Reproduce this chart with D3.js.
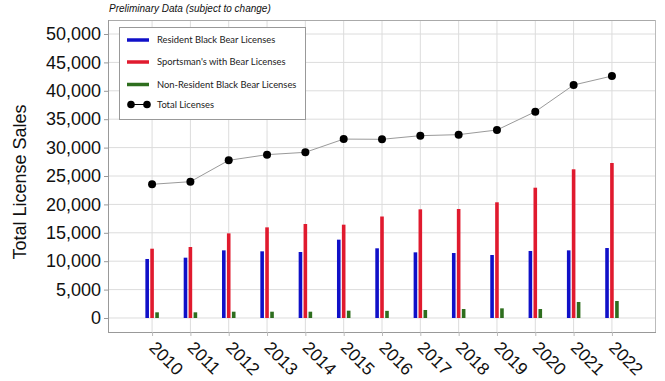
<!DOCTYPE html>
<html>
<head>
<meta charset="utf-8">
<script src="https://cdn.jsdelivr.net/npm/d3@7"></script>
<style>
  html, body { margin: 0; padding: 0; background: #fff; }
  svg { display: block; }
</style>
</head>
<body>
<svg id="chart" width="665" height="381"></svg>
<script>
const years = [2010, 2011, 2012, 2013, 2014, 2015, 2016, 2017, 2018, 2019, 2020, 2021, 2022];
const resident = [10390, 10620, 11910, 11740, 11620, 13790, 12270, 11560, 11440, 11090, 11800, 11910, 12320];
const sportsman = [12200, 12500, 14900, 15960, 16550, 16430, 17870, 19130, 19190, 20370, 22940, 26180, 27290];
const nonResident = [1000, 1000, 1110, 1110, 1110, 1290, 1260, 1410, 1580, 1700, 1580, 2820, 2990];
const total = [23540, 24000, 27760, 28760, 29170, 31500, 31460, 32100, 32280, 33100, 36320, 41020, 42600];
const yTicks = [0, 5000, 10000, 15000, 20000, 25000, 30000, 35000, 40000, 45000, 50000];
const seriesNames = ["Resident Black Bear Licenses", "Sportsman's with Bear Licenses", "Non-Resident Black Bear Licenses", "Total Licenses"];

const colors = ["#1010c8", "#e01a2e", "#2e6e1e"];
const svg = d3.select("#chart");
const L = 108, R = 656, T = 20, B = 332;

const x = d3.scaleLinear().domain([2008.85, 2023.15]).range([L, R]);
const y = d3.scaleLinear().domain([-2465, 52465]).range([B, T]);

// grid
const grid = svg.append("g");
grid.selectAll("line.h").data(yTicks).join("line")
  .attr("x1", L).attr("x2", R)
  .attr("y1", d => y(d)).attr("y2", d => y(d))
  .attr("stroke", "#dcdcdc").attr("stroke-width", 1);
grid.selectAll("line.v").data(years).join("line")
  .attr("x1", d => x(d)).attr("x2", d => x(d))
  .attr("y1", T).attr("y2", B)
  .attr("stroke", "#dcdcdc").attr("stroke-width", 1);

// frame top/right
svg.append("line").attr("x1", L).attr("x2", R).attr("y1", T + 0.5).attr("y2", T + 0.5).attr("stroke", "#aaa");
svg.append("line").attr("x1", R - 0.5).attr("x2", R - 0.5).attr("y1", T).attr("y2", B).attr("stroke", "#bbb");

// axes
const yAxis = d3.axisLeft(y).tickValues(yTicks).tickFormat(d3.format(",")).tickSize(4).tickPadding(3);
const gy = svg.append("g").attr("transform", `translate(${L},0)`).call(yAxis);
gy.select(".domain").attr("stroke", "#999").attr("d", `M0.5,${T}V${B}`);
gy.selectAll(".tick line").attr("stroke", "#999");
gy.selectAll(".tick text").attr("font-family", "Liberation Sans, Arial, sans-serif").attr("font-size", 18).attr("fill", "#111");

const xAxis = d3.axisBottom(x).tickValues(years).tickFormat(d3.format("d")).tickSize(4).tickPadding(6);
const gx = svg.append("g").attr("transform", `translate(0,${B})`).call(xAxis);
gx.select(".domain").attr("stroke", "#999").attr("d", `M${L},0.5H${R}`);
gx.selectAll(".tick line").attr("stroke", "#bbb");
gx.selectAll(".tick text")
  .attr("font-family", "Liberation Sans, Arial, sans-serif").attr("font-size", 17.5).attr("fill", "#111")
  .attr("text-anchor", "start")
  .attr("transform", "translate(0,12.5) rotate(45)")
  .attr("dy", "0.35em").attr("y", 0).attr("x", 0);

// bars
const barW = 3.6;
const offsets = [-4.9, 0, 5.0];
[resident, sportsman, nonResident].forEach((vals, i) => {
  svg.append("g").selectAll("rect").data(vals).join("rect")
    .attr("x", (d, j) => x(years[j]) + offsets[i] - barW / 2)
    .attr("width", barW)
    .attr("y", d => y(d))
    .attr("height", d => y(0) - y(d))
    .attr("fill", colors[i]);
});

// total line
const line = d3.line().x((d, j) => x(years[j])).y(d => y(d));
svg.append("path").datum(total).attr("d", line).attr("fill", "none").attr("stroke", "#9a9a9a").attr("stroke-width", 1);
svg.append("g").selectAll("circle").data(total).join("circle")
  .attr("cx", (d, j) => x(years[j])).attr("cy", d => y(d)).attr("r", 4).attr("fill", "#000");

// subtitle
svg.append("text").attr("x", 109).attr("y", 12)
  .attr("font-family", "Liberation Sans, Arial, sans-serif").attr("font-size", 10).attr("font-style", "italic")
  .attr("fill", "#111").text("Preliminary Data (subject to change)");

// y axis title
svg.append("text").attr("transform", "translate(26,182) rotate(-90)")
  .attr("text-anchor", "middle")
  .attr("font-family", "Liberation Sans, Arial, sans-serif").attr("font-size", 18).attr("fill", "#111")
  .text("Total License Sales");

// legend
const lg = svg.append("g");
lg.append("rect").attr("x", 119.5).attr("y", 27.5).attr("width", 186).attr("height", 92)
  .attr("fill", "#fff").attr("stroke", "#999").attr("stroke-width", 1);
const rowsY = [40, 62, 84.5, 104.5];
seriesNames.forEach((name, i) => {
  if (i < 3) {
    lg.append("line").attr("x1", 127).attr("x2", 149).attr("y1", rowsY[i]).attr("y2", rowsY[i])
      .attr("stroke", colors[i]).attr("stroke-width", 3.5);
  } else {
    lg.append("line").attr("x1", 131).attr("x2", 147).attr("y1", rowsY[i]).attr("y2", rowsY[i])
      .attr("stroke", "#000").attr("stroke-width", 1);
    lg.append("circle").attr("cx", 131).attr("cy", rowsY[i]).attr("r", 3.8).attr("fill", "#000");
    lg.append("circle").attr("cx", 147).attr("cy", rowsY[i]).attr("r", 3.8).attr("fill", "#000");
  }
  lg.append("text").attr("x", 157).attr("y", rowsY[i]).attr("dy", "0.35em")
    .attr("font-family", "Lato, sans-serif").attr("font-size", 9.4).attr("fill", "#222")
    .text(name);
});
</script>
</body>
</html>
